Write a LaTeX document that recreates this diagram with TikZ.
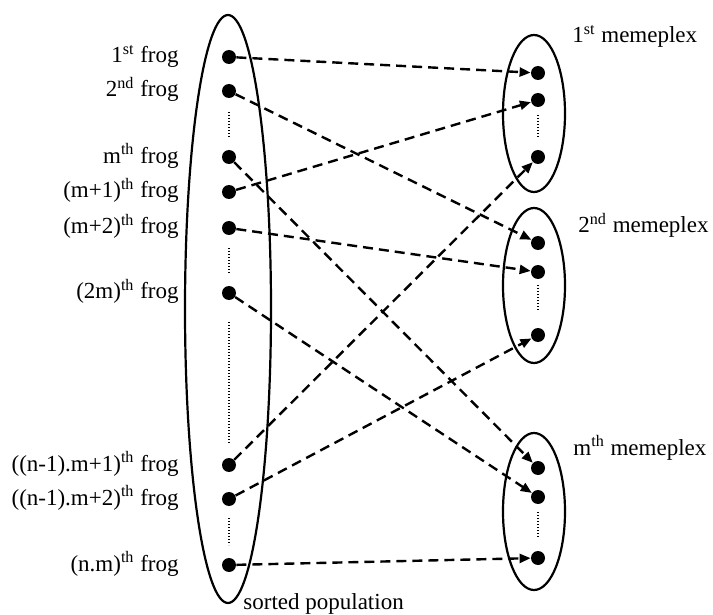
\documentclass[tikz,border=0pt]{standalone}
\usepackage{fontspec}
\setmainfont{Liberation Serif}
\usetikzlibrary{arrows,arrows.meta}

\begin{document}
\begin{tikzpicture}[x=0.5pt,y=-0.5pt,font=\fontsize{11.5}{13}\selectfont,
  dot/.style={circle,fill,inner sep=0pt,minimum size=7pt},
  pool/.style={line width=1.1pt},
  gap/.style={line width=0.6pt,dash pattern=on 0.6pt off 0.9pt},
  link/.style={line width=1.2pt,dash pattern=on 5pt off 3pt,-{Triangle[length=5.5pt,width=4.5pt]}},
  tag/.style={inner sep=0pt}]
\useasboundingbox (0,0) rectangle (713,615);

% sorted population
\draw[pool] (228,309) ellipse (21.5pt and 147pt);

\foreach \y/\n/\lab in {57/1/{1\textsuperscript{st} frog},
  91/2/{2\textsuperscript{nd} frog},
  157/3/{m\textsuperscript{th} frog},
  192/4/{(m+1)\textsuperscript{th} frog},
  228/5/{(m+2)\textsuperscript{th} frog},
  293/6/{(2m)\textsuperscript{th} frog},
  465/7/{((n-1).m+1)\textsuperscript{th} frog},
  499/8/{((n-1).m+2)\textsuperscript{th} frog},
  565/9/{(n.m)\textsuperscript{th} frog}}
{
\node[dot] (f\n) at (229,\y) {};
\node[tag,anchor=base east] (t\n) at (179,\y+6) {\lab};
}

\node[tag,anchor=base west] (sorted) at (243,609) {sorted population};

% memeplexes
\draw[pool] (534,113.5) ellipse (15.5pt and 39.25pt);
\draw[pool] (534,285.5) ellipse (15.5pt and 38.75pt);
\draw[pool] (534,511.5) ellipse (15.5pt and 39.25pt);

\foreach \y/\n in {73/11,100/12,157/13,243/21,272/22,335/23,468/31,497/32,558/33}
{
\node[dot] (p\n) at (538,\y) {};
}

\node[tag,anchor=base west] (mem1) at (572,43) {1\textsuperscript{st} memeplex};
\node[tag,anchor=base west] (mem2) at (578,233) {2\textsuperscript{nd} memeplex};
\node[tag,anchor=base west] (mem3) at (573,455) {m\textsuperscript{th} memeplex};

% dotted gaps
\draw[gap] (229,112)--(229,137) (229,248)--(229,273) (229,322)--(229,443) (229,518)--(229,545);
\draw[gap] (538,115)--(538,138) (538,285)--(538,310) (538,512)--(538,538);

% assignment of frogs
\foreach \a/\b in {1/11,2/21,3/31,4/12,5/22,6/32,7/13,8/23,9/33}
{
\draw[link] (f\a) -- (p\b);
}
\end{tikzpicture}
\end{document}
